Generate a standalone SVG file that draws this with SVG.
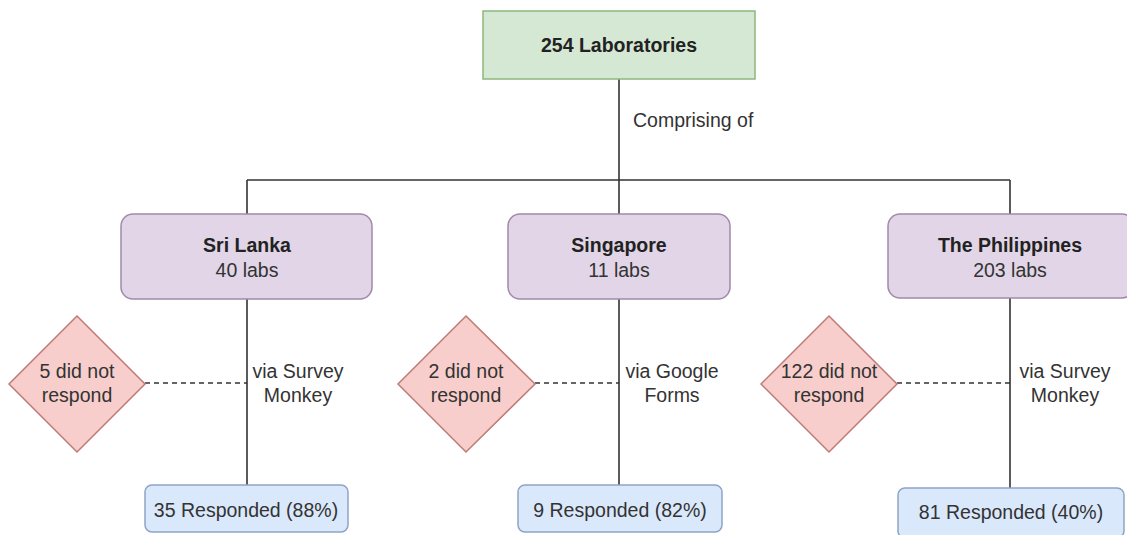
<svg xmlns="http://www.w3.org/2000/svg" width="1127" height="535" viewBox="0 0 1127 535">
<style>
text{font-family:"Liberation Sans",Arial,sans-serif;font-size:19.5px;fill:#333;text-anchor:middle}
.b{font-weight:bold;fill:#222}
.l{text-anchor:start}
.top{fill:#d5e8d4;stroke:#8fb57e;stroke-width:1.5}
.cty{fill:#e1d5e7;stroke:#a08aa8;stroke-width:1.5}
.no{fill:#f8cecc;stroke:#c07a76;stroke-width:1.5}
.yes{fill:#dae8fc;stroke:#8ea4c4;stroke-width:1.5}
.ln{stroke:#333;stroke-width:1.6;fill:none}
.dash{stroke:#333;stroke-width:1.6;fill:none;stroke-dasharray:5 4}
</style>
<rect width="1127" height="535" fill="#fff"/>
<g id="connectors">
<path class="ln" d="M619 79V180M247 180H1010M247 180V214M619 180V214M1010 180V214"/>
<path class="ln" d="M247 299V485M619 299V485M1010 298V488"/>
<path class="dash" d="M145 383H247M535 383H619M897 383H1010"/>
</g>
<g id="labs">
<rect class="top" x="483" y="11" width="272" height="68"/>
<text class="b" x="619" y="52">254 Laboratories</text>
</g>
<g id="comprising-label"><text class="l" x="633" y="127">Comprising of</text></g>
<g id="sri-lanka">
<rect class="cty" x="121" y="214" width="251" height="85" rx="12"/>
<text class="b" x="247" y="252">Sri Lanka</text>
<text x="247" y="277">40 labs</text>
</g>
<g id="singapore">
<rect class="cty" x="508" y="214" width="222" height="85" rx="12"/>
<text class="b" x="619" y="252">Singapore</text>
<text x="619" y="277">11 labs</text>
</g>
<g id="philippines">
<rect class="cty" x="888" y="214" width="246" height="84" rx="12"/>
<text class="b" x="1010" y="252">The Philippines</text>
<text x="1010" y="277">203 labs</text>
</g>
<g id="sl-no">
<polygon class="no" points="77,316 145,384 77,452 9,384"/>
<text x="77" y="378">5 did not</text>
<text x="77" y="402">respond</text>
</g>
<g id="sg-no">
<polygon class="no" points="466,316 535,384 466,452 398,384"/>
<text x="466" y="378">2 did not</text>
<text x="466" y="402">respond</text>
</g>
<g id="ph-no">
<polygon class="no" points="829,316 897,384 829,452 761,384"/>
<text x="829" y="378">122 did not</text>
<text x="829" y="402">respond</text>
</g>
<g id="sl-via"><text x="298" y="378">via Survey</text><text x="298" y="402">Monkey</text></g>
<g id="sg-via"><text x="672" y="378">via Google</text><text x="672" y="402">Forms</text></g>
<g id="ph-via"><text x="1065" y="378">via Survey</text><text x="1065" y="402">Monkey</text></g>
<g id="sl-yes">
<rect class="yes" x="145" y="485" width="203" height="47" rx="7"/>
<text x="246" y="517">35 Responded (88%)</text>
</g>
<g id="sg-yes">
<rect class="yes" x="518" y="485" width="204" height="47" rx="7"/>
<text x="620" y="517">9 Responded (82%)</text>
</g>
<g id="ph-yes">
<rect class="yes" x="898" y="488" width="226" height="50" rx="7"/>
<text x="1011" y="519">81 Responded (40%)</text>
</g>
</svg>
